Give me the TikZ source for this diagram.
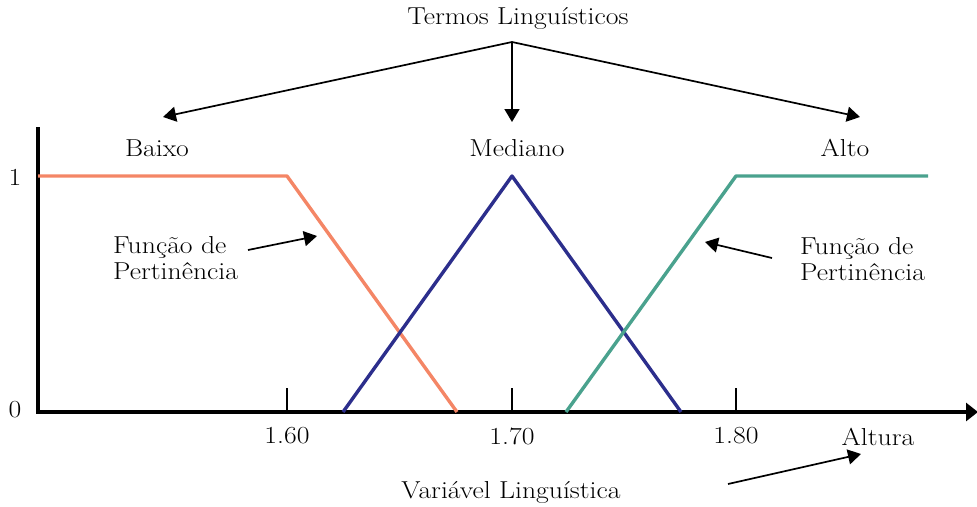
\documentclass[tikz,border=0pt]{standalone}
\usetikzlibrary{arrows.meta}
\definecolor{baixoc}{RGB}{244,134,102}
\definecolor{medc}{RGB}{44,46,140}
\definecolor{altoc}{RGB}{74,162,142}
\newcommand{\wx}[1]{\scalebox{1.13}[1]{#1}}
\begin{document}
\begin{tikzpicture}[x=1pt,y=-1pt,
  lbl/.style={inner sep=0pt,font=\fontsize{24.5}{29}\selectfont},
  axisln/.style={line width=3.6pt},
  mf/.style={line width=3.4pt,line join=round},
  pointer/.style={line width=1.7pt,-{Triangle[length=13pt,width=15pt]}},
  tick/.style={line width=1.6pt}]
\useasboundingbox (0,0) rectangle (977,506);
% axes
\coordinate (o) at (38,412);
\coordinate (ytop) at (38,127);
\coordinate (xend) at (978,412);
\draw[axisln] (ytop) -- (38,413.8);
\draw[axisln,-{Triangle[length=12pt,width=18pt]}] (36.2,412) -- (xend);
% ticks
\coordinate (t1) at (287,412); \coordinate (t2) at (512,412); \coordinate (t3) at (736,412);
\foreach \t in {t1,t2,t3} \draw[tick] (\t) -- ++(0,-24);
\node[lbl] (l160) at (287,436) {\wx{1.60}};
\node[lbl] (l170) at (512,436) {\wx{1.70}};
\node[lbl] (l180) at (736,436) {\wx{1.80}};
\node[lbl] (y1) at (15,177) {\wx{1}};
\node[lbl] (y0) at (15,410) {\wx{0}};
% membership functions
\coordinate (b1) at (38,176); \coordinate (b2) at (287,176); \coordinate (b3) at (457,412);
\coordinate (m1) at (343,412); \coordinate (m2) at (512,176); \coordinate (m3) at (681,412);
\coordinate (a1) at (566,412); \coordinate (a2) at (736,176); \coordinate (a3) at (928,176);
\draw[mf,baixoc] (b1) -- (b2) -- (b3);
\draw[mf,medc] (m1) -- (m2) -- (m3);
\draw[mf,altoc] (a1) -- (a2) -- (a3);
% labels
\node[lbl] (baixo) at (157,148) {\wx{Baixo}};
\node[lbl] (mediano) at (517,148) {\wx{Mediano}};
\node[lbl] (alto) at (845,148) {\wx{Alto}};
\node[lbl] (termos) at (518,18) {\wx{Termos Lingu\'isticos}};
\coordinate (hub) at (512,42);
\coordinate (tl) at (163,117);
\coordinate (tm) at (512,122);
\coordinate (tr) at (860,117);
\draw[pointer] (hub) -- (tl);
\draw[pointer] (hub) -- (tm);
\draw[pointer] (hub) -- (tr);
% pertinence labels
\node[lbl,anchor=west] (fpl) at (113,261) {\wx{\begin{tabular}{@{}l@{}}Fun\c{c}\~ao de\\[-3pt]Pertin\^encia\end{tabular}}};
\node[lbl,anchor=west] (fpr) at (800,262) {\wx{\begin{tabular}{@{}l@{}}Fun\c{c}\~ao de\\[-3pt]Pertin\^encia\end{tabular}}};
\coordinate (pl0) at (248,250); \coordinate (pl1) at (317,236);
\coordinate (pr0) at (772,258); \coordinate (pr1) at (705,242);
\draw[pointer] (pl0) -- (pl1);
\draw[pointer] (pr0) -- (pr1);
% variable
\node[lbl] (altura) at (878,437) {\wx{Altura}};
\node[lbl] (varl) at (511,492) {\wx{Vari\'avel Lingu\'istica}};
\coordinate (v0) at (728,484); \coordinate (v1) at (861,454);
\draw[pointer] (v0) -- (v1);
\end{tikzpicture}
\end{document}
